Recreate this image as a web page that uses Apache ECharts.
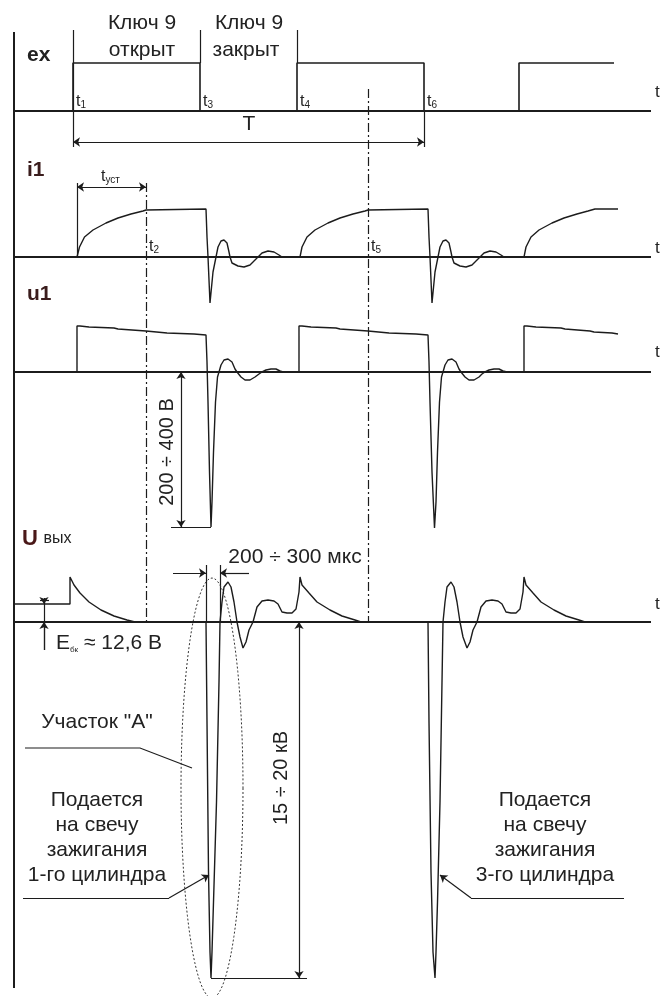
<!DOCTYPE html>
<html>
<head>
<meta charset="utf-8">
<title>Временные диаграммы системы зажигания</title>
<script src="https://cdn.jsdelivr.net/npm/echarts@6/dist/echarts.min.js"></script>
<style>
  html, body { margin: 0; padding: 0; background: #fff; }
  #chart { width: 663px; height: 996px; }
</style>
</head>
<body>
<div id="chart"></div>
<script>
// ось времени: 0..663 (как на рисунке), вертикаль: 0..996 сверху вниз
// базовые линии панелей ex, i1, u1, Uвых
const panelNames = ['ex', 'i1', 'u1', 'Uвых'];
const panelBaselines = [111, 257, 372, 622];

// моменты времени
const tLabels = ['t1', 't3', 't4', 't6', 't2', 't5'];
const tTimes = [73, 200, 297, 424, 146, 368];

// ex: [время, амплитуда]
const exWave = [[73,0],[73,48],[200,48],[200,0],[297,0],[297,48],[424,48],[424,0],[519,0],[519,48],[614,48]];

// i1: ток первичной обмотки
const i1Wave = [
  [77,0],[79.5,10],[84.5,20],[93,27],[106,34],[118,39],[131,43],[143,46],[146,47],[146,48],[206,48],
  [207,20],[208,0],[210,-46],[213,-15],[216,0],[218,10],[221,16],[224,17],[227,14],[229,5],[230,0],
  [232,-6],[238,-9],[244,-10],[250,-8],[255,-3],[258,0],[262,4],[268,6],[274,5],[279,2],[282,0],[300,0],
  [302,10],[307,20],[315,27],[328,34],[340,39],[353,43],[365,46],[368,47],[368,48],[428,48],
  [429,20],[430,0],[432,-46],[435,-15],[438,0],[440,10],[443,16],[446,17],[449,14],[451,5],[452,0],
  [454,-6],[460,-9],[466,-10],[472,-8],[477,-3],[480,0],[484,4],[490,6],[496,5],[501,2],[504,0],[524,0],
  [526,10],[531,20],[539,27],[552,34],[564,39],[577,43],[588,46],[595,48],[618,48]
];

// u1: напряжение первичной обмотки
const u1Wave = [
  [77,0],[77,46],[80,46],[89,45],[114,44],[118,43],[146,41],[148,40],[167,39],[194,38],[206,37],
  [207,10],[208,-30],[209.5,-100],[211,-155],[212,-130],[213.5,-80],[215.5,-30],[217.5,-5],[219,0],
  [221,7],[224,12],[228,13],[232,10],[235,3],[237,0],[241,-5],[245,-8],[250,-8],[255,-5],[259,-2],[262,0],
  [266,2],[271,3],[276,3],[280,1],[283,0],[299,0],
  [299,46],[302,46],[311,45],[336,44],[340,43],[368,41],[370,40],[389,39],[416,38],[428,37],
  [429,10],[430,-30],[432,-100],[434.5,-156],[436,-130],[437.5,-80],[439.5,-30],[441.5,-5],[443,0],
  [445,7],[448,12],[452,13],[456,10],[459,3],[461,0],[465,-5],[469,-8],[474,-8],[479,-5],[482,-2],[485,0],
  [489,2],[494,3],[499,3],[503,1],[507,0],[524,0],
  [524,46],[527,46],[536,45],[561,44],[565,43],[590,41],[594,40],[612,39],[618,38]
];

// Uвых: вторичное напряжение
const uOutWave = [
  [14,18],[70,18],[70,45],[72,45],[74,37],[80,29],[89,20],[101,12],[114,6],[127,2],[135,0],[206,0],
  [207,-100],[208.5,-250],[210,-330],[211,-356],[212,-330],[213.5,-280],[216.5,-180],[219,-60],[220,0],
  [222,20],[224,35],[228,40],[231,35],[234,20],[237,0],[240,-15],[243,-26],[246,-20],[249,-8],[253,0],
  [257,15],[262,21],[268,22],[274,21],[278,18],[282,10],[287,9],[292,9],[296,13],[299,30],[300,45],
  [302,37],[309,29],[317,20],[330,12],[342,6],[355,2],[361,0],[428,0],
  [429,-100],[431,-250],[433,-330],[435,-356],[436,-330],[437.5,-280],[440,-180],[442,-60],[443,0],
  [445,20],[447,35],[451,40],[454,35],[457,20],[460,0],[463,-15],[467,-26],[470,-20],[473,-8],[477,0],
  [481,15],[486,21],[492,22],[498,21],[502,18],[506,10],[511,9],[516,9],[520,13],[523,30],[524,45],
  [526,37],[533,29],[541,20],[554,12],[566,6],[579,2],[585,0]
];

// выносные линии
const extLines = [
  [[73,30],[73,147]], [[200,30],[200,63]], [[297,30],[297,63]], [[424,111],[424,147]],
  [[77,183],[77,257]],
  [[171,527],[211,527]],
  [[206,565],[206,622]], [[220,565],[220,622]],
  [[211,978],[307,978]],
  [[44,600],[44,650]], [[40,600],[49,600]]
];
// размерные стрелки (обе стороны)
const dimLines = [
  [[73,142],[424,142]], [[77,187],[146,187]], [[181,372],[181,527]], [[299,622],[299,978]]
];
// стрелки с одной стороны
const arrowLines = [
  [[173,573],[206,573]], [[249,573],[220,573]], [[44,650],[44,622]], [[44,598],[44,604]],
  [[169,898],[209,875]], [[471,898],[440,875]]
];
// выноски
const leaderLines = [
  [[25,748],[140,748],[192,768]],
  [[23,898],[169,898]],
  [[624,898],[471,898]]
];
// штрихпунктир t2, t5
const dashLines = [[[146,183],[146,622]], [[368,89],[368,622]]];
// участок "А": центр и полуоси
const ellipseA = [[212, 788, 31, 210]];

const LINE = '#1c1c1c';
const FONT = "'Liberation Sans', Arial, sans-serif";

let myEcharts = echarts.init(document.getElementById('chart'));

function toPanel(base, pts) {
  return pts.map(p => [p[0], base - p[1]]);
}
function waveSeries(data, width) {
  return {
    type: 'line', data: data, showSymbol: false, symbol: 'none', silent: true,
    lineStyle: { color: LINE, width: width }, animation: false
  };
}
function segSeries(list, symbol, dash) {
  return {
    type: 'lines', coordinateSystem: 'cartesian2d', silent: true, animation: false,
    polyline: list.length && list[0].length > 2,
    symbol: symbol, symbolSize: 7,
    lineStyle: { color: LINE, width: 1.2, opacity: 1, type: dash || 'solid' },
    data: list.map(c => ({ coords: c }))
  };
}

let series = [];
// левая вертикаль и оси t
series.push(waveSeries([[14,32],[14,988]], 2));
panelBaselines.forEach(b => series.push(waveSeries([[14,b],[651,b]], 2)));
// кривые
series.push(waveSeries(toPanel(panelBaselines[0], exWave), 1.6));
series.push(waveSeries(toPanel(panelBaselines[1], i1Wave), 1.4));
series.push(waveSeries(toPanel(panelBaselines[2], u1Wave), 1.4));
series.push(waveSeries(toPanel(panelBaselines[3], uOutWave), 1.4));
// размеры
series.push(segSeries(extLines, 'none'));
series.push(segSeries(dimLines, ['arrow','arrow']));
series.push(segSeries(arrowLines, ['none','arrow']));
series.push(segSeries(leaderLines.slice(0,1), 'none'));
series.push(segSeries(leaderLines.slice(1), 'none'));
series.push(segSeries(dashLines, 'none', [9,3,2,3]));
// пунктирный эллипс
series.push({
  type: 'custom', silent: true, animation: false,
  data: ellipseA,
  encode: { x: 0, y: 1 },
  renderItem: function (params, api) {
    let c = api.coord([api.value(0), api.value(1)]);
    let s = api.size([api.value(2), api.value(3)]);
    let pts = [];
    for (let k = 0; k <= 96; k++) {
      let a = k / 96 * Math.PI * 2;
      pts.push([c[0] + s[0] * Math.cos(a), c[1] + s[1] * Math.sin(a)]);
    }
    return {
      type: 'polyline', shape: { points: pts },
      style: { stroke: '#333', lineWidth: 1, fill: null, lineDash: [2,2] }
    };
  }
});

function txt(x, y, text, size, opts) {
  opts = opts || {};
  return {
    type: 'text', x: x, y: y, rotation: opts.rot || 0, silent: true,
    style: {
      text: text, fontSize: size, fontFamily: FONT, fontWeight: opts.bold ? 'bold' : 'normal',
      fill: opts.color || '#222', align: opts.align || 'center', verticalAlign: 'middle',
      rich: opts.rich
    }
  };
}
const sub = { s: { fontSize: 10, fontFamily: FONT, fill: '#222', verticalAlign: 'bottom', padding: [6,0,0,0] } };

let graphic = [
  txt(142, 23, 'Ключ 9', 21), txt(142, 50, 'открыт', 21),
  txt(249, 23, 'Ключ 9', 21), txt(246, 50, 'закрыт', 21),
  txt(27, 55, panelNames[0], 21, { bold: true, align: 'left' }),
  txt(27, 170, panelNames[1], 21, { bold: true, align: 'left', color: '#3a1c1c' }),
  txt(27, 294, panelNames[2], 21, { bold: true, align: 'left', color: '#3a1c1c' }),
  txt(22, 539, '{u|U} {v|вых}', 20, { align: 'left', rich: {
    u: { fontSize: 22, fontFamily: FONT, fontWeight: 'bold', fill: '#4a1818' },
    v: { fontSize: 16, fontFamily: FONT, fill: '#222' } } }),
  txt(249, 124, 'T', 21),
  txt(101, 177, 't{s|уст}', 16, { align: 'left', rich: sub }),
  txt(167, 452, '200 ÷ 400 В', 20, { rot: Math.PI / 2 }),
  txt(295, 557, '200 ÷ 300 мкс', 21),
  txt(56, 643, 'E{e|бк} ≈ 12,6 В', 21, { align: 'left', rich: { e: { fontSize: 8, fontFamily: FONT, fill: '#222', verticalAlign: 'bottom' } } }),
  txt(281, 778, '15 ÷ 20 кВ', 20, { rot: Math.PI / 2 }),
  txt(97, 722, 'Участок "А"', 21),
  txt(97, 800, 'Подается', 21), txt(97, 825, 'на свечу', 21),
  txt(97, 850, 'зажигания', 21), txt(97, 875, '1-го цилиндра', 21),
  txt(545, 800, 'Подается', 21), txt(545, 825, 'на свечу', 21),
  txt(545, 850, 'зажигания', 21), txt(545, 875, '3-го цилиндра', 21)
];
// подписи моментов времени
const tLabelY = [102, 102, 102, 102, 247, 247];
tLabels.forEach((name, i) => {
  graphic.push(txt(tTimes[i] + 3, tLabelY[i], 't{s|' + name.slice(1) + '}', 16, { align: 'left', rich: sub }));
});
// "t" справа у каждой оси
[92, 248, 352, 604].forEach(y => graphic.push(txt(655, y, 't', 17, { align: 'left' })));

let option = {
  animation: false,
  grid: { left: 0, right: 0, top: 0, bottom: 0 },
  xAxis: { type: 'value', min: 0, max: 663, show: false },
  yAxis: { type: 'value', min: 0, max: 996, inverse: true, show: false },
  series: series,
  graphic: graphic
};
myEcharts.setOption(option);
</script>
</body>
</html>
